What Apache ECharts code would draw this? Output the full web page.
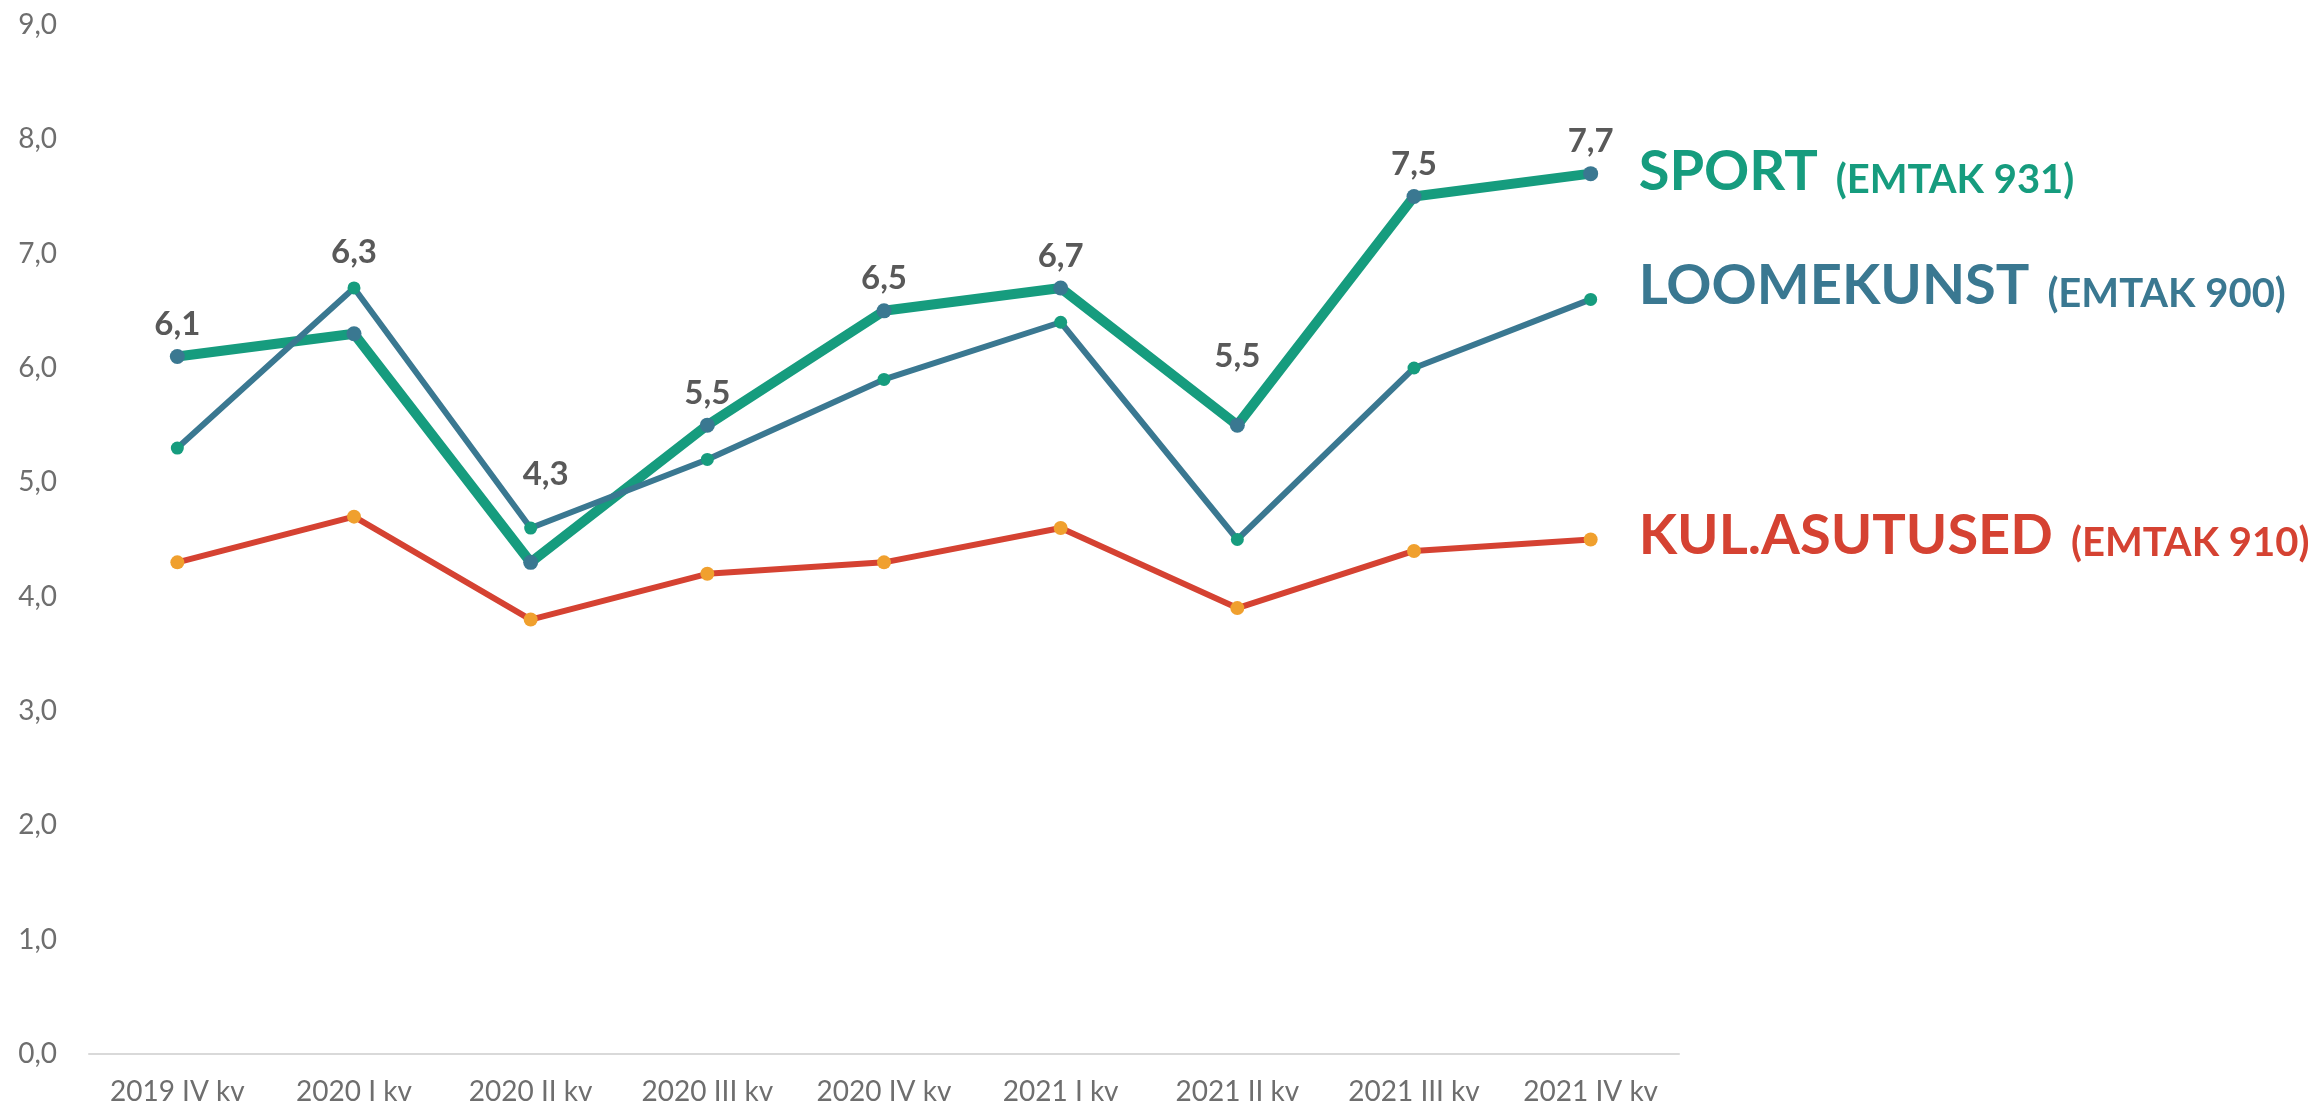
<!DOCTYPE html>
<html>
<head>
<meta charset="utf-8">
<script src="https://cdn.jsdelivr.net/npm/echarts@6/dist/echarts.min.js"></script>
<style>
  html, body { margin: 0; padding: 0; background: #ffffff; }
  #chart { width: 2315px; height: 1110px; }
</style>
</head>
<body>
<div id="chart"></div>
<script>
// ---- data ----
const categories = ['2019 IV kv', '2020 I kv', '2020 II kv', '2020 III kv', '2020 IV kv', '2021 I kv', '2021 II kv', '2021 III kv', '2021 IV kv'];
const sport = [6.1, 6.3, 4.3, 5.5, 6.5, 6.7, 5.5, 7.5, 7.7];
const loomekunst = [5.3, 6.7, 4.6, 5.2, 5.9, 6.4, 4.5, 6.0, 6.6];
const kulAsutused = [4.3, 4.7, 3.8, 4.2, 4.3, 4.6, 3.9, 4.4, 4.5];
const seriesNames = ['SPORT', 'LOOMEKUNST', 'KUL.ASUTUSED'];
const seriesCodes = ['(EMTAK 931)', '(EMTAK 900)', '(EMTAK 910)'];
const yMin = 0, yMax = 9, yStep = 1;

// label placement tweaks (pixels) for the SPORT value labels, as moved in the original
const labelShiftX = [0, 0, 15, 0, 0, 0, 0, 0, 0];
const labelShiftY = [0, -49, -56, 0, 0, 0, -37, 0, 0];

// ---- styling ----
const GREEN = '#169C7E';
const BLUE = '#3A7891';
const RED = '#D54232';
const ORANGE = '#F0A02E';
const FONT = 'Lato, "Open Sans", sans-serif';
const fmt = v => Number(v).toFixed(1).replace('.', ',');

function endLabel(idx, color, dy) {
  return {
    show: true,
    offset: [40, dy],
    fontFamily: FONT,
    formatter: () => '{a|' + seriesNames[idx] + '}{b|' + seriesCodes[idx] + '}',
    rich: {
      a: { fontSize: 56, fontWeight: 'bold', color: color, fontFamily: FONT, verticalAlign: 'bottom' },
      b: { fontSize: 40, fontWeight: 'bold', color: color, fontFamily: FONT, padding: [0, 0, 0, 18], verticalAlign: 'bottom' }
    }
  };
}

const sportData = sport.map((v, i) => ({
  value: v,
  label: { offset: [labelShiftX[i], labelShiftY[i]] }
}));

const chart = echarts.init(document.getElementById('chart'), null, { renderer: 'canvas' });
chart.setOption({
  animation: false,
  backgroundColor: '#ffffff',
  grid: { left: 89, right: 636, top: 25, bottom: 56, containLabel: false },
  xAxis: {
    type: 'category',
    data: categories,
    boundaryGap: true,
    axisLine: { show: true, lineStyle: { color: '#D9D9D9', width: 2 } },
    axisTick: { show: false },
    axisLabel: { color: '#6E6E6E', fontSize: 28, fontFamily: FONT, margin: 24 },
    splitLine: { show: false }
  },
  yAxis: {
    type: 'value',
    min: yMin, max: yMax, interval: yStep,
    axisLine: { show: false },
    axisTick: { show: false },
    splitLine: { show: false },
    axisLabel: { color: '#6E6E6E', fontSize: 28, fontFamily: FONT, margin: 32, formatter: fmt }
  },
  series: [
    {
      name: seriesNames[2],
      type: 'line',
      data: kulAsutused,
      symbol: 'circle', symbolSize: 14,
      lineStyle: { color: RED, width: 6 },
      itemStyle: { color: ORANGE },
      endLabel: endLabel(2, RED, -4),
      z: 2
    },
    {
      name: seriesNames[0],
      type: 'line',
      data: sportData,
      symbol: 'circle', symbolSize: 15,
      lineStyle: { color: GREEN, width: 10 },
      itemStyle: { color: BLUE },
      label: {
        show: true, position: 'top', distance: 8,
        color: '#595959', fontSize: 33, fontWeight: 'bold', fontFamily: FONT,
        formatter: p => fmt(p.value)
      },
      endLabel: endLabel(0, GREEN, -2),
      z: 3
    },
    {
      name: seriesNames[1],
      type: 'line',
      data: loomekunst,
      symbol: 'circle', symbolSize: 13,
      lineStyle: { color: BLUE, width: 6 },
      itemStyle: { color: GREEN },
      endLabel: endLabel(1, BLUE, -13),
      z: 4
    }
  ]
});
</script>
</body>
</html>
